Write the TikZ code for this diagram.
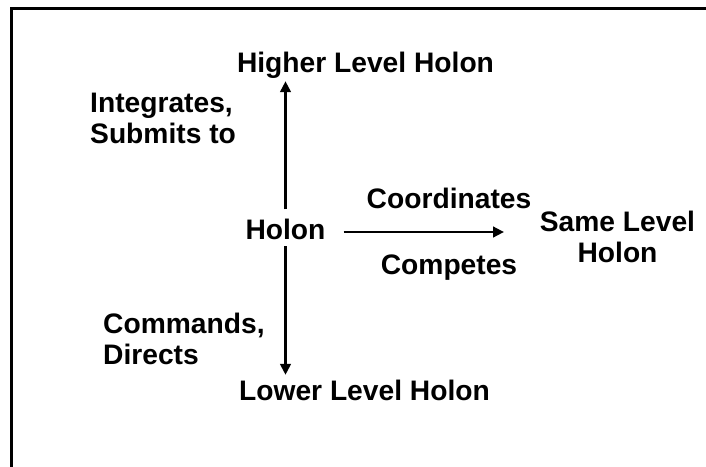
\documentclass[tikz,border=0pt]{standalone}
\usepackage{fontspec}
\setmainfont{Liberation Sans}
\usetikzlibrary{arrows.meta}
\tikzset{
  lbl/.style={font=\fontsize{28.2}{31}\selectfont\bfseries, inner sep=0pt},
  rel/.style={line width=2.7pt, -{Triangle[length=11pt,width=10.5pt]}},
  frameline/.style={line width=2.4pt}
}
\begin{document}
\begin{tikzpicture}[x=1pt,y=-1pt]
  \useasboundingbox (0,0) rectangle (706,466);
  % open frame: left and top edges
  \draw[frameline] (11.5,468) -- (11.5,8.5) -- (708,8.5);

  \node[lbl, anchor=base] (higher) at (365.5,72) {Higher Level Holon};
  \node[lbl, anchor=base] (holon)  at (285.5,239) {Holon};
  \node[lbl, anchor=base] (lower)  at (364.5,400) {Lower Level Holon};
  \node[lbl, align=center] (same) at (617.5,237) {Same Level\\Holon};

  \node[lbl, align=left, anchor=west] (up)   at (90,118.5) {Integrates,\\Submits to};
  \node[lbl, align=left, anchor=west] (down) at (103,338.5) {Commands,\\Directs};
  \node[lbl, anchor=base] (coord) at (449,208) {Coordinates};
  \node[lbl, anchor=base] (comp)  at (449,274) {Competes};

  \draw[rel, shorten <=9pt, shorten >=3pt] (holon.north) -- (holon.north |- higher.south);
  \draw[rel, shorten <=7pt, shorten >=4.5pt] (holon.south) -- (holon.south |- lower.north);
  \draw[rel, shorten <=18pt] (holon.east |- 0,232) coordinate (hstart) -- (504,232) coordinate (hend);
\end{tikzpicture}
\end{document}
